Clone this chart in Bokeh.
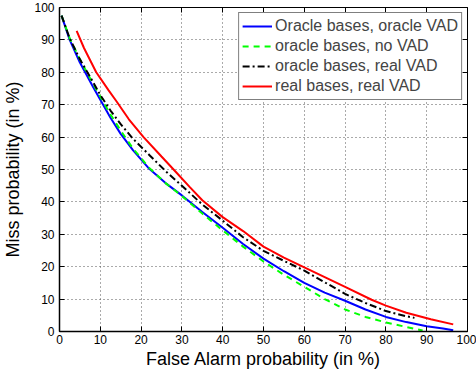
from bokeh.plotting import figure
from bokeh.models import LinearAxis, Legend, LegendItem, Range1d, FixedTicker
from bokeh.embed import file_html
from bokeh.resources import INLINE

ticks = [0, 10, 20, 30, 40, 50, 60, 70, 80, 90, 100]

blue_x = [0.5, 2.5, 5, 8, 10, 12.5, 15, 18, 22, 26, 30, 35, 40, 45, 50, 55, 60, 65, 70, 75, 80, 85, 90, 94, 96.5]
blue_y = [97.5, 90, 83, 76, 71.5, 66, 61, 56, 50.2, 45.8, 42, 36.9, 32, 27, 22.5, 18.6, 15, 12, 9.5, 6.8, 4.5, 2.9, 1.6, 0.9, 0.4]

green_x = [0.5, 2.5, 5, 8, 10, 12.5, 15, 18, 22, 26, 30, 35, 40, 45, 50, 55, 60, 65, 70, 75, 80, 85, 89]
green_y = [97.5, 90.5, 84, 77, 72.5, 67, 62, 56.5, 50.5, 45.8, 41.8, 36.4, 31.2, 26.2, 21.6, 17.5, 13.8, 10, 6.8, 4.5, 2.8, 1.4, 0.3]

black_x = [0.5, 2.5, 5, 8, 10, 12.5, 15, 18, 22, 26, 30, 35, 40, 45, 50, 55, 60, 65, 70, 75, 80, 85, 87]
black_y = [97.5, 90.5, 84, 77.5, 73, 68.2, 64, 59.5, 54.5, 49.5, 45, 39.2, 34.2, 29.1, 24.9, 21.8, 18.8, 15.2, 11.6, 8.8, 6.3, 4.7, 4.2]

red_x = [4.2, 6, 9, 12, 14, 17, 20.6, 25, 28.7, 32, 35, 40, 45, 50, 55, 60, 65, 70, 76.5, 80, 85, 91, 96.5]
red_y = [92.8, 87.5, 80, 74.5, 71, 65.5, 60, 54, 49, 44.5, 40.5, 35.3, 31, 26.2, 22.8, 19.8, 16.8, 13.8, 9.8, 8, 5.8, 3.8, 2.2]

labels = ["Oracle bases, oracle VAD", "oracle bases, no VAD",
          "oracle bases, real VAD", "real bases, real VAD"]

FONT = "Liberation Sans"

p = figure(width=476, height=371, x_range=Range1d(0, 100), y_range=Range1d(0, 100),
           output_backend="svg", toolbar_location=None,
           min_border_left=56, min_border_right=9, min_border_top=7, min_border_bottom=40,
           x_axis_label="False Alarm probability (in %)",
           y_axis_label="Miss probability (in %)")
p.background_fill_color = "white"
p.border_fill_color = "white"
p.outline_line_color = "black"
p.outline_line_width = 1

ticker = FixedTicker(ticks=ticks)
for ax in (p.xaxis[0], p.yaxis[0]):
    ax.ticker = ticker
    ax.major_tick_in = 5
    ax.major_tick_out = 0
    ax.minor_tick_line_color = None
    ax.axis_line_color = "black"
    ax.axis_line_width = 1.5
    ax.major_tick_line_color = "black"
    ax.major_label_text_font = FONT
    ax.major_label_text_font_size = "12px"
    ax.major_label_text_color = "black"
    ax.axis_label_text_font = FONT
    ax.axis_label_text_font_size = "18px"
    ax.axis_label_text_font_style = "normal"
    ax.axis_label_text_color = "black"
p.xaxis[0].major_label_standoff = 3
p.xaxis[0].axis_label_standoff = 2
p.yaxis[0].major_label_standoff = 5
p.yaxis[0].axis_label_standoff = 8

for loc in ("above", "right"):
    ax = LinearAxis(ticker=ticker, major_tick_in=5, major_tick_out=0,
                    minor_tick_line_color=None, axis_line_color=None,
                    major_label_text_font_size="0px", major_label_text_color=None,
                    major_label_standoff=0, major_tick_line_color="black")
    p.add_layout(ax, loc)

for g in (p.xgrid[0], p.ygrid[0]):
    g.ticker = ticker
    g.grid_line_color = "#555555"
    g.grid_line_dash = "1 3"
    g.grid_line_width = 1

r_blue = p.line(blue_x, blue_y, line_color="#0000ff", line_width=2)
r_green = p.line(green_x, green_y, line_color="#00ff00", line_width=2, line_dash="6 5")
r_black = p.line(black_x, black_y, line_color="black", line_width=2, line_dash="7 3 2 3")
r_red = p.line(red_x, red_y, line_color="#ff0000", line_width=2)

legend = Legend(items=[LegendItem(label=labels[0], renderers=[r_blue]),
                       LegendItem(label=labels[1], renderers=[r_green]),
                       LegendItem(label=labels[2], renderers=[r_black]),
                       LegendItem(label=labels[3], renderers=[r_red])],
                location="top_right", margin=5, padding=3, spacing=0,
                label_standoff=3, glyph_width=30, glyph_height=20, label_height=20,
                label_text_font=FONT, label_text_font_size="16px",
                border_line_color="black", border_line_width=1,
                background_fill_color="white", background_fill_alpha=1)
p.add_layout(legend)

open("out.html", "w").write(file_html(p, INLINE))
